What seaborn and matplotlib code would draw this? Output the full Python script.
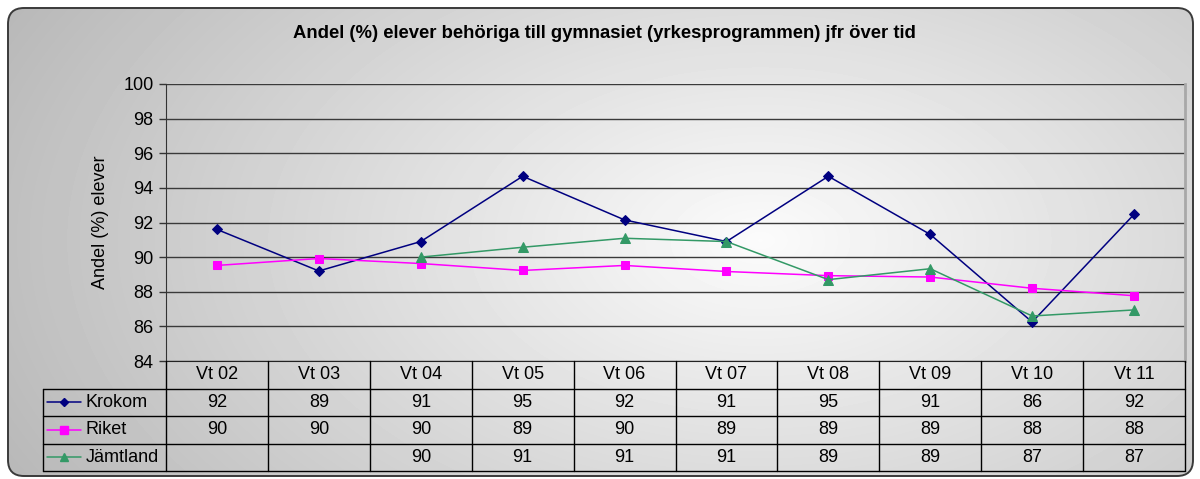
import numpy as np
import pandas as pd
import matplotlib
matplotlib.use("Agg")
import matplotlib.pyplot as plt
from matplotlib.patches import FancyBboxPatch
import seaborn as sns

# data
terms = ["Vt 02", "Vt 03", "Vt 04", "Vt 05", "Vt 06", "Vt 07", "Vt 08", "Vt 09", "Vt 10", "Vt 11"]
krokom = [91.6, 89.2, 90.9, 94.67, 92.15, 90.9, 94.67, 91.31, 86.25, 92.47]
riket = [89.52, 89.92, 89.63, 89.23, 89.52, 89.17, 88.93, 88.85, 88.2, 87.77]
jamtland = [np.nan, np.nan, 90.0, 90.57, 91.09, 90.9, 88.7, 89.33, 86.6, 86.95]

series = ["Krokom", "Riket", "Jämtland"]
values = [krokom, riket, jamtland]
colors = ["#000080", "#FF00FF", "#339966"]
markers = ["D", "s", "^"]
msizes = [5, 6, 6.5]

sns.set_style("white")
plt.rcParams["font.family"] = ["Liberation Sans", "DejaVu Sans"]
plt.rcParams["text.color"] = "black"
plt.rcParams["axes.labelcolor"] = "black"
plt.rcParams["ytick.color"] = "black"

W, H = 1200, 479
fs = 13
fig = plt.figure(figsize=(W / 100, H / 100), dpi=100)

# background with radial gradient inside a rounded frame
bg = fig.add_axes([0, 0, 1, 1])
bg.set_xlim(0, W)
bg.set_ylim(H, 0)
bg.axis("off")
X, Y = np.meshgrid(np.arange(W), np.arange(H))
d = np.sqrt(((X - 760) / 740) ** 2 + ((Y - 240) / 440) ** 2)
grad = 0.985 - 0.23 * np.clip(d, 0, 1.2)
frame = FancyBboxPatch((8, 8), 1185, 468, boxstyle="round,pad=0,rounding_size=16",
                       facecolor="none", edgecolor="#3a3a3a", lw=1.4, zorder=3)
bg.add_patch(frame)
img = bg.imshow(grad, cmap="gray", vmin=0, vmax=1, extent=(0, W, H, 0), zorder=1)
img.set_clip_path(frame)

# main line chart
ax = fig.add_axes([166 / W, 118 / H, 1019 / W, 277 / H])
ax.patch.set_alpha(0)
x = np.arange(len(terms))
for name, vals, c, m, ms in zip(series, values, colors, markers, msizes):
    df = pd.DataFrame({"x": x, "y": vals}).dropna()
    sns.lineplot(data=df, x="x", y="y", ax=ax, color=c, marker=m, markersize=ms,
                 markeredgecolor=c, linewidth=1.1, zorder=4)
ax.set_xlim(-0.5, len(terms) - 0.5)
ax.set_ylim(84, 100)
ax.set_yticks(range(84, 101, 2))
ax.set_xticks([])
ax.set_xlabel("")
ax.grid(axis="y", color="#3a3a3a", lw=1)
ax.set_axisbelow(True)
ax.spines["top"].set_visible(False)
ax.spines["left"].set_color("#333333")
ax.spines["bottom"].set_color("#222222")
ax.spines["right"].set_color("#a8a8a8")
ax.spines["right"].set_linewidth(2)
ax.tick_params(axis="y", direction="out", length=5, width=1, color="#333333",
               labelsize=fs, pad=4, left=True)
ax.set_ylabel("Andel (%) elever", fontsize=fs, labelpad=10)

fig.text(604 / W, 1 - 33 / H, "Andel (%) elever behöriga till gymnasiet (yrkesprogrammen) jfr över tid",
         ha="center", va="center", fontsize=13.3, fontweight="bold")

# data table under the chart
tb = fig.add_axes([166 / W, 8 / H, 1019 / W, 110 / H])
tb.set_xlim(-0.5, len(terms) - 0.5)
tb.set_ylim(4, 0)
tb.axis("off")
px = 1019 / len(terms)
xl = -0.5 - (166 - 43) / px
lk = dict(color="black", lw=1, clip_on=False)
for r in [1, 2, 3, 4]:
    tb.plot([xl, len(terms) - 0.5], [r, r], **lk)
tb.plot([xl, xl], [1, 4], **lk)
for i in range(len(terms) + 1):
    tb.plot([i - 0.5, i - 0.5], [0, 4], **lk)

for i, t in enumerate(terms):
    tb.text(i, 0.5, t, ha="center", va="center", fontsize=fs)
for r, (name, vals, c, m, ms) in enumerate(zip(series, values, colors, markers, msizes), start=1):
    for i, v in enumerate(vals):
        if not np.isnan(v):
            tb.text(i, r + 0.5, f"{v:.0f}", ha="center", va="center", fontsize=fs)
    k0 = -0.5 + (47 - 166) / px
    k1 = -0.5 + (81 - 166) / px
    tb.plot([k0, k1], [r + 0.5, r + 0.5], color=c, lw=1.1, clip_on=False)
    tb.plot([(k0 + k1) / 2], [r + 0.5], color=c, marker=m, markersize=ms - 0.5, clip_on=False)
    tb.text(-0.5 + (86 - 166) / px, r + 0.5, name, ha="left", va="center", fontsize=fs)

fig.savefig("out.png", dpi=100)
